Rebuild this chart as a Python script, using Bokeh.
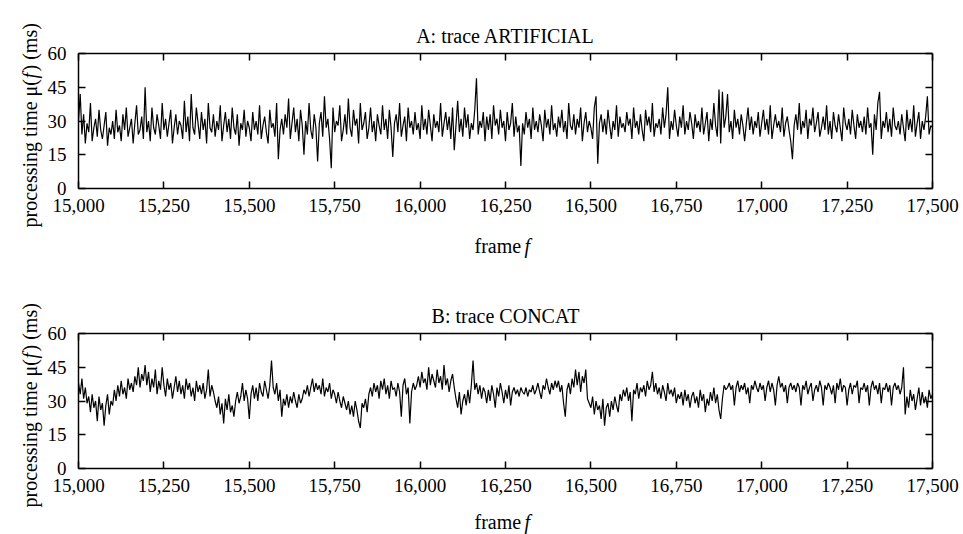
from bokeh.plotting import figure
from bokeh.models import Label, LinearAxis, FixedTicker, NumeralTickFormatter, Range1d
from bokeh.layouts import column
from bokeh.embed import file_html
from bokeh.resources import INLINE

# ---------------- data (one value every 5 frames) ----------------
frame_start = 15000
frame_step = 5

trace_artificial = [
    30, 42, 24, 33, 20, 29, 25, 38, 21, 27, 31, 23, 35, 26, 22, 28, 34, 19, 27, 24,
    30, 22, 35, 25, 28, 21, 33, 26, 36, 23, 27, 31, 20, 29, 37, 24, 26, 32, 22, 45,
    25, 30, 21, 36, 27, 24, 33, 28, 22, 38, 26, 31, 23, 29, 35, 20, 27, 33, 24, 30,
    28, 22, 39, 25, 32, 21, 42, 27, 24, 36, 29, 22, 34, 26, 31, 20, 38, 27, 25, 33,
    23, 30, 26, 37, 21, 28, 34, 25, 31, 22, 36, 27, 24, 33, 19, 29, 26, 35, 23, 30,
    27, 21, 34, 26, 30, 24, 37, 22, 28, 32, 25, 20, 35, 27, 29, 23, 38, 13, 26, 31,
    24, 33, 27, 40, 22, 29, 36, 25, 31, 21, 35, 28, 15, 30, 24, 38, 26, 22, 33, 27,
    12, 29, 34, 23, 41, 27, 31, 22, 9, 36, 25, 30, 28, 37, 21, 26, 33, 24, 40, 27,
    23, 35, 28, 31, 20, 38, 26, 29, 34, 22, 27, 36, 25, 30, 21, 33, 28, 24, 37, 26,
    31, 22, 35, 27, 14, 29, 33, 25, 38, 23, 28, 32, 21, 36, 27, 30, 24, 34, 26, 29,
    22, 37, 26, 31, 24, 35, 28, 21, 33, 27, 30, 25, 38, 23, 29, 34, 26, 32, 22, 36,
    17, 28, 39, 25, 31, 23, 36, 27, 33, 22, 29, 26, 35, 49, 24, 30, 27, 34, 21, 32,
    26, 33, 22, 37, 28, 31, 24, 35, 27, 30, 21, 34, 26, 29, 38, 23, 32, 25, 28, 10,
    29, 24, 34, 27, 31, 22, 36, 26, 30, 25, 33, 28, 21, 35, 27, 31, 24, 37, 26, 29,
    23, 32, 27, 35, 25, 30, 22, 38, 28, 26, 33, 24, 31, 27, 36, 21, 29, 34, 25, 30,
    27, 22, 36, 41, 11, 29, 33, 25, 31, 24, 35, 28, 22, 30, 26, 37, 23, 32, 27, 29,
    25, 34, 28, 31, 22, 36, 27, 30, 24, 33, 26, 21, 35, 28, 32, 25, 38, 23, 29, 27,
    31, 24, 36, 27, 33, 45, 22, 30, 26, 35, 28, 23, 32, 27, 37, 24, 30, 26, 34, 29,
    22, 33, 27, 30, 25, 36, 24, 29, 34, 21, 31, 26, 38, 28, 23, 44, 20, 43, 27, 32,
    42, 25, 30, 22, 35, 27, 31, 24, 33, 28, 21, 29, 36, 26, 32, 24, 30, 27, 34, 23,
    29, 35, 26, 31, 24, 37, 22, 28, 33, 27, 30, 25, 36, 23, 29, 32, 26, 21, 13, 28,
    33, 26, 38, 24, 30, 27, 35, 22, 31, 28, 36, 25, 29, 34, 23, 27, 32, 26, 37, 24,
    30, 22, 34, 28, 25, 33, 27, 21, 36, 29, 26, 31, 24, 35, 28, 22, 33, 27, 30, 25,
    32, 24, 36, 27, 29, 15, 33, 26, 38, 43, 22, 30, 27, 34, 25, 31, 23, 36, 28, 26,
    30, 24, 33, 27, 21, 35, 26, 31, 25, 37, 23, 29, 34, 22, 30, 26, 32, 41, 24, 28,
    27,
]

trace_concat = [
    38, 33, 40, 31, 36, 29, 32, 25, 33, 27, 30, 21, 32, 26, 29, 19, 28, 33, 24, 30,
    28, 35, 30, 37, 32, 39, 33, 36, 31, 40, 35, 38, 34, 41, 37, 45, 36, 42, 39, 46,
    37, 43, 34, 40, 36, 44, 33, 39, 35, 45, 37, 32, 40, 35, 38, 31, 36, 41, 34, 39,
    33, 37, 31, 40, 35, 38, 32, 36, 30, 39, 34, 37, 33, 38, 31, 35, 44, 32, 37, 34,
    30, 27, 32, 24, 29, 20, 31, 26, 33, 25, 28, 23, 30, 34, 29, 32, 38, 30, 35, 31,
    22, 33, 37, 31, 36, 30, 38, 34, 32, 39, 35, 31, 37, 48, 36, 33, 38, 30, 35, 23,
    31, 28, 33, 27, 32, 29, 34, 30, 27, 33, 29, 31, 35, 33, 37, 32, 36, 40, 34, 38,
    35, 37, 33, 40, 32, 36, 34, 38, 31, 35, 33, 29, 34, 30, 27, 32, 29, 26, 30, 24,
    28, 23, 30, 26, 21, 18, 29, 27, 31, 25, 33, 36, 32, 38, 34, 37, 31, 39, 35, 40,
    33, 37, 31, 39, 35, 36, 32, 38, 34, 23, 37, 40, 33, 36, 20, 34, 38, 35, 37, 41,
    36, 43, 38, 40, 35, 45, 37, 42, 39, 36, 44, 38, 41, 35, 46, 37, 40, 34, 39, 42,
    36, 31, 27, 34, 24, 30, 33, 28, 35, 29, 37, 48, 35, 38, 33, 37, 31, 36, 34, 29,
    35, 30, 37, 33, 27, 36, 32, 38, 34, 29, 35, 31, 37, 28, 34, 36, 33, 35, 32, 36,
    34, 33, 36, 32, 35, 34, 37, 33, 35, 38, 34, 31, 37, 35, 40, 36, 33, 38, 35, 39,
    36, 39, 34, 37, 29, 23, 35, 38, 33, 40, 36, 44, 37, 43, 34, 41, 38, 44, 31, 29,
    27, 32, 24, 30, 26, 28, 22, 31, 19, 27, 29, 23, 30, 26, 32, 28, 25, 33, 30, 35,
    32, 36, 30, 34, 21, 35, 33, 38, 31, 36, 34, 37, 32, 39, 35, 37, 43, 34, 38, 33,
    36, 31, 37, 34, 30, 38, 33, 35, 32, 36, 29, 33, 31, 34, 28, 35, 30, 33, 27, 32,
    34, 29, 32, 27, 35, 30, 33, 25, 31, 28, 34, 30, 36, 29, 33, 26, 22, 31, 37, 35,
    36, 38, 35, 37, 28, 36, 39, 34, 37, 35, 38, 33, 36, 29, 37, 35, 39, 36, 34, 38,
    35, 37, 30, 36, 39, 34, 38, 35, 28, 37, 41, 36, 38, 34, 37, 29, 36, 38, 35, 37,
    34, 38, 36, 28, 37, 35, 39, 33, 36, 38, 30, 35, 37, 34, 39, 36, 28, 37, 35, 38,
    36, 33, 37, 29, 38, 35, 40, 34, 37, 36, 28, 35, 38, 33, 37, 36, 39, 29, 36, 35,
    38, 34, 37, 28, 36, 39, 35, 37, 33, 38, 29, 36, 35, 38, 34, 37, 28, 36, 38, 35,
    37, 33, 36, 45, 24, 32, 27, 35, 30, 33, 26, 31, 36, 28, 34, 29, 32, 27, 35, 31,
    33,
]

x_ticks = [15000, 15250, 15500, 15750, 16000, 16250, 16500, 16750, 17000, 17250, 17500]
y_ticks = [0, 15, 30, 45, 60]
titles = ["A: trace ARTIFICIAL", "B: trace CONCAT"]

# ---------------- styling / layout ----------------
FONT = "Liberation Serif"
W = 963
FRAME_L, FRAME_R, FRAME_T, FRAME_B = 78, 932, 53, 188
X0, X1 = 15000, 17500
Y0, Y1 = 0, 60


def style_axis(ax, show_labels, standoff):
    ax.axis_line_color = "black"
    ax.axis_line_width = 1.5
    ax.major_tick_line_color = "black"
    ax.major_tick_line_width = 1.5
    ax.major_tick_in = 7
    ax.major_tick_out = 0
    ax.minor_tick_line_color = None
    ax.major_label_text_font = FONT
    if show_labels:
        ax.major_label_text_font_size = "19px"
        ax.major_label_text_color = "black"
    else:
        ax.major_label_text_font_size = "1px"
        ax.major_label_text_color = None
    ax.major_label_standoff = standoff


def add_text(p, side, x, y, text, angle=0.0, align="left", baseline="alphabetic", style="normal"):
    # labels live in a side panel so that they are not clipped to the data frame;
    # their position is given in canvas pixels
    p.add_layout(Label(x=x, y=y, x_units="canvas", y_units="canvas", text=text,
                       angle=angle, text_align=align, text_baseline=baseline,
                       text_font=FONT, text_font_style=style,
                       text_line_height=0.2,
                       text_font_size="20px", text_color="black"), side)


def panel(title, values, height, xlabel_base):
    frames = [frame_start + frame_step * i for i in range(len(values))]
    p = figure(width=W, height=height,
               x_range=Range1d(X0, X1), y_range=Range1d(Y0, Y1),
               output_backend="svg", toolbar_location=None,
               x_axis_location=None, y_axis_location=None,
               min_border_left=FRAME_L, min_border_right=W - FRAME_R,
               min_border_top=FRAME_T, min_border_bottom=height - FRAME_B)
    p.outline_line_color = None
    p.grid.visible = False
    p.background_fill_color = "white"
    p.border_fill_color = "white"

    p.line(frames, values, line_color="black", line_width=1.2)

    xb = LinearAxis(ticker=FixedTicker(ticks=x_ticks),
                    formatter=NumeralTickFormatter(format="0,0"))
    style_axis(xb, True, 10)
    p.add_layout(xb, "below")
    xt = LinearAxis(ticker=FixedTicker(ticks=x_ticks))
    style_axis(xt, False, 0)
    p.add_layout(xt, "above")
    yl = LinearAxis(ticker=FixedTicker(ticks=y_ticks))
    style_axis(yl, True, 12)
    p.add_layout(yl, "left")
    yr = LinearAxis(ticker=FixedTicker(ticks=y_ticks))
    style_axis(yr, False, 0)
    p.add_layout(yr, "right")

    ang = 1.5707963267948966
    # title
    add_text(p, "above", 505, 35, title, align="center")
    # x axis label "frame f"
    add_text(p, "below", 474, xlabel_base, "frame")
    add_text(p, "right", 524, xlabel_base, "f", style="italic")
    # y axis label "processing time μ(f) (ms)" rotated
    add_text(p, "left", 29, 227, "processing time μ(", angle=ang, baseline="middle")
    add_text(p, "above", 29, 78, "f", angle=ang, baseline="middle", style="italic")
    add_text(p, "left", 29, 71, ") (ms)", angle=ang, baseline="middle")
    return p


p1 = panel(titles[0], trace_artificial, 280, 245)
p2 = panel(titles[1], trace_concat, 254, 241)
layout = column(p1, p2, spacing=0)

open("out.html", "w").write(file_html(layout, INLINE))
